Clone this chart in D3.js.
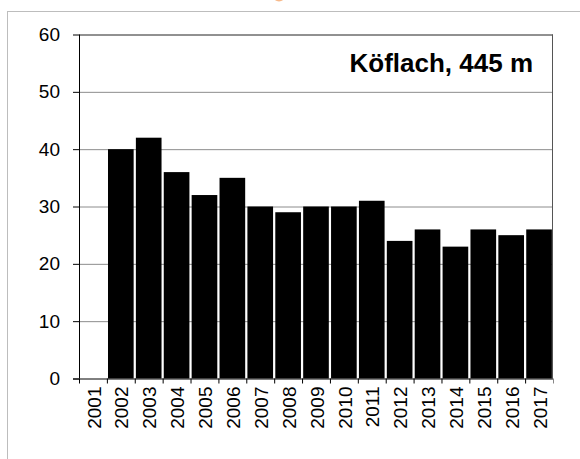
<!DOCTYPE html>
<html>
<head>
<meta charset="utf-8">
<script src="https://cdn.jsdelivr.net/npm/d3@7"></script>
<style>
  body { margin: 0; background: #fff; }
  text { font-family: "Liberation Sans", Arial, sans-serif; }
</style>
</head>
<body>
<div id="chart"></div>
<script>
(function() {
  'use strict'

  // Data //
  var years = ['2001', '2002', '2003', '2004', '2005', '2006', '2007', '2008', '2009',
    '2010', '2011', '2012', '2013', '2014', '2015', '2016', '2017']
  var values = [null, 40, 42, 36, 32, 35, 30, 29, 30, 30, 31, 24, 26, 23, 26, 25, 26]
  var yTicks = [0, 10, 20, 30, 40, 50, 60]
  var station = 'Köflach, 445 m'

  // SVG Setup //
  var width = 580,
    height = 459,
    margin = {top: 34.5, right: 27, bottom: 80.5, left: 79}

  var svg = d3.select('#chart').append('svg')
    .attr('width', width)
    .attr('height', height)

  // outer frame, runs past the right and bottom edges
  svg.append('rect')
    .attr('x', 7.5).attr('y', 11.5)
    .attr('width', 700).attr('height', 600)
    .attr('fill', 'none')
    .attr('stroke', '#bdbdbd')

  // bit of an orange mark cut off at the top
  svg.append('circle')
    .attr('cx', 279).attr('cy', -5).attr('r', 6.5)
    .attr('fill', '#f7b98a')

  var g = svg.append('g')
    .attr('transform', 'translate(' + margin.left + ',' + margin.top + ')')

  var w = width - margin.left - margin.right,
    h = height - margin.top - margin.bottom

  // Scales //
  var x = d3.scaleBand()
    .domain(years)
    .range([0, w])
    .paddingInner(0.08)
    .paddingOuter(0.04)

  var y = d3.scaleLinear()
    .domain([0, 60])
    .range([h, 0])

  // gridlines
  g.append('g')
    .selectAll('line')
    .data(yTicks.slice(1, -1))
    .join('line')
    .attr('x1', 0).attr('x2', w)
    .attr('y1', function(d) { return y(d) + 0.5 })
    .attr('y2', function(d) { return y(d) + 0.5 })
    .attr('stroke', '#8c8c8c')

  // Bars //
  g.append('g')
    .selectAll('rect')
    .data(years.map(function(d, i) { return {year: d, value: values[i]} })
      .filter(function(d) { return d.value != null }))
    .join('rect')
    .attr('x', function(d) { return x(d.year) })
    .attr('width', x.bandwidth())
    .attr('y', function(d) { return y(d.value) })
    .attr('height', function(d) { return h - y(d.value) })
    .attr('fill', '#000')

  // plot frame
  g.append('line').attr('x1', 0).attr('x2', w).attr('y1', 0.5).attr('y2', 0.5)
    .attr('stroke', '#222')
  g.append('line').attr('x1', w - 0.5).attr('x2', w - 0.5).attr('y1', 0).attr('y2', h)
    .attr('stroke', '#555')

  // Y axis //
  var yAxis = g.append('g')
    .call(d3.axisLeft(y).tickValues(yTicks).tickSize(6).tickPadding(13))
  yAxis.select('.domain').attr('stroke', '#000').attr('d', 'M0.5,0V' + h)
  yAxis.selectAll('line').attr('stroke', '#000')
  yAxis.selectAll('text')
    .attr('font-size', '19px')
    .attr('fill', '#000')
    .style('font-family', '"Liberation Sans", Arial, sans-serif')

  // X axis //
  var step = x.step()
  var xAxis = g.append('g').attr('transform', 'translate(0,' + h + ')')
  xAxis.append('line')
    .attr('x1', -6).attr('x2', w)
    .attr('y1', 0.5).attr('y2', 0.5)
    .attr('stroke', '#000')
  xAxis.selectAll('.tick')
    .data(d3.range(years.length + 1))
    .join('line')
    .attr('class', 'tick')
    .attr('x1', function(i) { return i * step + 0.5 })
    .attr('x2', function(i) { return i * step + 0.5 })
    .attr('y1', 0).attr('y2', 5)
    .attr('stroke', function(i) { return i === years.length ? '#888' : '#000' })
  xAxis.selectAll('.lbl')
    .data(years)
    .join('text')
    .attr('class', 'lbl')
    .attr('transform', function(d) {
      return 'translate(' + (x(d) + x.bandwidth() / 2 + 1) + ',8) rotate(-90)'
    })
    .attr('text-anchor', 'end')
    .attr('dy', '0.35em')
    .attr('font-size', '19px')
    .text(function(d) { return d })

  // station label
  g.append('text')
    .attr('x', 454)
    .attr('y', 37)
    .attr('text-anchor', 'end')
    .attr('font-size', '26px')
    .attr('font-weight', 'bold')
    .text(station)
})()
</script>
</body>
</html>
